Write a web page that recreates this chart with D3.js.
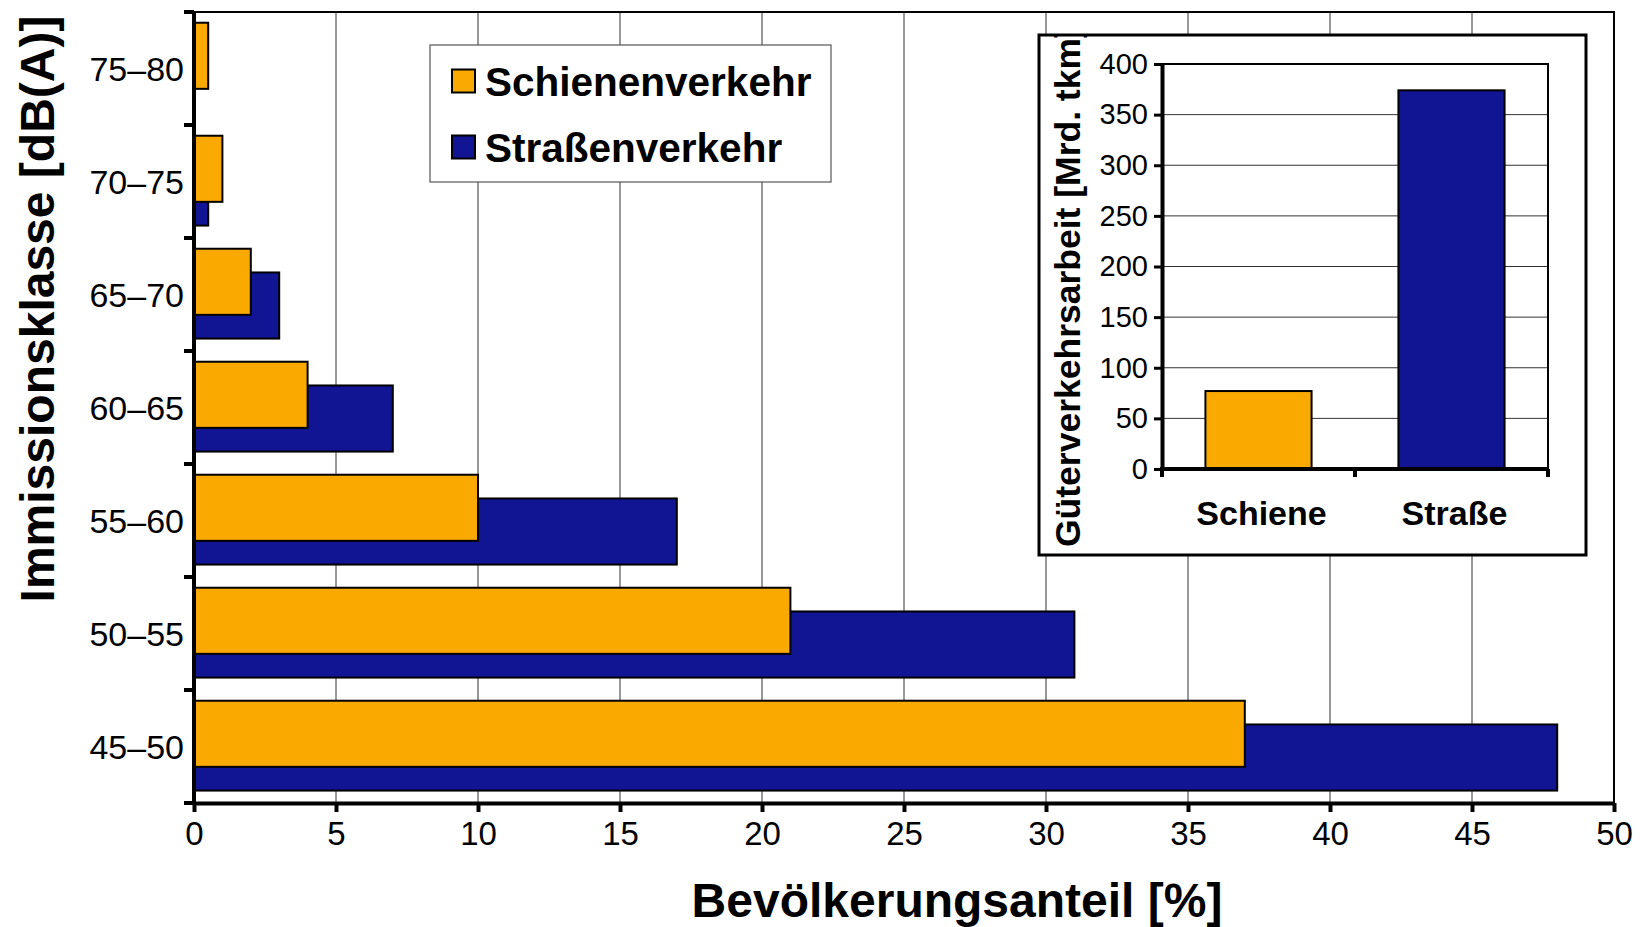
<!DOCTYPE html>
<html>
<head>
	<script src="https://cdn.jsdelivr.net/npm/d3@7"></script>
	<style>
		html, body {
			padding: 0;
			margin: 0;
			background: white;
		}
		text {
			font-family: "Liberation Sans", Arial, sans-serif;
		}
	</style>
</head>
<body>
	<script>
		var width = 1647, height = 927;

		// data
		var categories = ["45–50", "50–55", "55–60", "60–65", "65–70", "70–75", "75–80"];
		var schiene    = [37, 21, 10, 4, 2, 1, 0.5];
		var strasse    = [48, 31, 17, 7, 3, 0.5, 0];
		var seriesNames = ["Schienenverkehr", "Straßenverkehr"];
		var xTicks = [0, 5, 10, 15, 20, 25, 30, 35, 40, 45, 50];

		var insetCats   = ["Schiene", "Straße"];
		var insetValues = [77, 374];
		var insetTicks  = [0, 50, 100, 150, 200, 250, 300, 350, 400];

		var orange = "#f9a900", blue = "#111594";

		var svg = d3.select("body").append("svg")
			.attr("width", width)
			.attr("height", height);

		/* main chart */
		var pLeft = 194, pRight = 1614, pTop = 12, pBottom = 803;

		var x = d3.scaleLinear().domain([0, 50]).range([pLeft, pRight]);
		var y = d3.scaleBand().domain(categories.slice().reverse()).range([pTop, pBottom]).padding(0);
		// position inside a band: 0..1
		var sub = d3.scaleLinear().domain([0, 1]).range([0, y.bandwidth()]);

		// vertical gridlines
		svg.append("g").selectAll("line")
			.data(xTicks.slice(1, -1))
			.join("line")
			.attr("x1", d => x(d)).attr("x2", d => x(d))
			.attr("y1", pTop).attr("y2", pBottom)
			.attr("stroke", "#333").attr("stroke-width", 1);

		// frame top + right
		svg.append("path")
			.attr("d", "M" + pLeft + "," + pTop + "H" + pRight + "V" + pBottom)
			.attr("fill", "none").attr("stroke", "#000").attr("stroke-width", 2);

		// blue bars first, orange drawn over them
		svg.append("g").selectAll("rect")
			.data(categories)
			.join("rect")
			.attr("x", x(0))
			.attr("y", (d) => y(d) + sub(0.305))
			.attr("width", (d, i) => x(strasse[i]) - x(0))
			.attr("height", sub(0.585))
			.attr("fill", blue)
			.attr("stroke", "#000").attr("stroke-width", 2)
			.attr("display", (d, i) => strasse[i] > 0 ? null : "none");

		svg.append("g").selectAll("rect")
			.data(categories)
			.join("rect")
			.attr("x", x(0))
			.attr("y", (d) => y(d) + sub(0.095))
			.attr("width", (d, i) => x(schiene[i]) - x(0))
			.attr("height", sub(0.585))
			.attr("fill", orange)
			.attr("stroke", "#000").attr("stroke-width", 2);

		// axes
		var xAxis = svg.append("g")
			.attr("transform", "translate(0," + pBottom + ")")
			.call(d3.axisBottom(x).tickValues(xTicks).tickSize(9).tickPadding(10).tickSizeOuter(0));
		xAxis.select(".domain").attr("stroke-width", 4);
		xAxis.selectAll(".tick line").attr("stroke-width", 4);
		xAxis.selectAll("text").attr("font-size", 33).attr("fill", "#000")
			.attr("font-family", "Liberation Sans, Arial, sans-serif");

		// y axis: ticks sit on the band edges, labels in the band centre
		var yEdges = y.domain().map(d => y(d)).concat([pBottom]);
		var yAxis = svg.append("g");
		yAxis.append("line")
			.attr("x1", pLeft).attr("x2", pLeft)
			.attr("y1", pTop).attr("y2", pBottom + 2)
			.attr("stroke", "#000").attr("stroke-width", 4);
		yAxis.selectAll(".yt")
			.data(yEdges)
			.join("line")
			.attr("x1", pLeft - 10).attr("x2", pLeft)
			.attr("y1", d => d).attr("y2", d => d)
			.attr("stroke", "#000").attr("stroke-width", 4);
		yAxis.selectAll("text")
			.data(categories)
			.join("text")
			.attr("x", pLeft - 10)
			.attr("y", d => y(d) + y.bandwidth() / 2)
			.attr("dy", "0.36em")
			.attr("text-anchor", "end")
			.attr("font-size", 34)
			.text(d => d);

		// axis titles
		svg.append("text")
			.attr("x", 957).attr("y", 917)
			.attr("text-anchor", "middle")
			.attr("font-size", 48).attr("font-weight", "bold")
			.text("Bevölkerungsanteil [%]");

		svg.append("text")
			.attr("transform", "translate(54,309) rotate(-90)")
			.attr("text-anchor", "middle")
			.attr("font-size", 48).attr("font-weight", "bold")
			.text("Immissionsklasse [dB(A)]");

		/* legend */
		var legend = svg.append("g");
		legend.append("rect")
			.attr("x", 430).attr("y", 45).attr("width", 401).attr("height", 137)
			.attr("fill", "#fff").attr("stroke", "#555").attr("stroke-width", 1.2);
		var lg = legend.selectAll("g")
			.data(seriesNames)
			.join("g")
			.attr("transform", (d, i) => "translate(452," + (81 + i * 66) + ")");
		lg.append("rect")
			.attr("x", 0).attr("y", -11.5).attr("width", 23).attr("height", 23)
			.attr("fill", (d, i) => i == 0 ? orange : blue)
			.attr("stroke", "#000").attr("stroke-width", 2);
		lg.append("text")
			.attr("x", 33).attr("dy", "0.36em")
			.attr("font-size", 40.5).attr("font-weight", "bold")
			.text(d => d);

		/* inset chart */
		var bx = 1039, by = 35, bw = 547, bh = 520;
		svg.append("defs").append("clipPath").attr("id", "insetClip")
			.append("rect").attr("x", bx).attr("y", by + 1).attr("width", bw).attr("height", bh);
		svg.append("rect")
			.attr("x", bx).attr("y", by).attr("width", bw).attr("height", bh)
			.attr("fill", "#fff").attr("stroke", "#000").attr("stroke-width", 3);

		var iLeft = 1162, iRight = 1548, iTop = 64, iBottom = 469;
		var iy = d3.scaleLinear().domain([0, 400]).range([iBottom, iTop]);
		var ix = d3.scaleBand().domain(insetCats).range([iLeft, iRight]).paddingInner(0.45).paddingOuter(0.225);
		var ixEdges = d3.scaleBand().domain(insetCats).range([iLeft, iRight]);

		svg.append("g").selectAll("line")
			.data(insetTicks.slice(1, -1))
			.join("line")
			.attr("x1", iLeft).attr("x2", iRight)
			.attr("y1", d => iy(d)).attr("y2", d => iy(d))
			.attr("stroke", "#333").attr("stroke-width", 1);
		svg.append("path")
			.attr("d", "M" + iLeft + "," + iTop + "H" + iRight + "V" + iBottom)
			.attr("fill", "none").attr("stroke", "#000").attr("stroke-width", 2);

		svg.append("g").selectAll("rect")
			.data(insetCats)
			.join("rect")
			.attr("x", d => ix(d))
			.attr("y", (d, i) => iy(insetValues[i]))
			.attr("width", ix.bandwidth())
			.attr("height", (d, i) => iy(0) - iy(insetValues[i]))
			.attr("fill", (d, i) => i == 0 ? orange : blue)
			.attr("stroke", "#000").attr("stroke-width", 2);

		var iyAxis = svg.append("g")
			.attr("transform", "translate(" + iLeft + ",0)")
			.call(d3.axisLeft(iy).tickValues(insetTicks).tickSize(8).tickPadding(6).tickSizeOuter(0));
		iyAxis.select(".domain").attr("stroke-width", 4);
		iyAxis.selectAll(".tick line").attr("stroke-width", 3);
		iyAxis.selectAll("text").attr("font-size", 29).attr("fill", "#000")
			.attr("font-family", "Liberation Sans, Arial, sans-serif");

		var ixAxis = svg.append("g").attr("transform", "translate(0," + iBottom + ")");
		ixAxis.append("line")
			.attr("x1", iLeft - 2).attr("x2", iRight + 1)
			.attr("stroke", "#000").attr("stroke-width", 4);
		ixAxis.selectAll(".ixt")
			.data(insetCats.map(d => ixEdges(d)).concat([iRight]))
			.join("line")
			.attr("x1", d => d).attr("x2", d => d)
			.attr("y1", 0).attr("y2", 8)
			.attr("stroke", "#000").attr("stroke-width", 4);
		ixAxis.selectAll("text")
			.data(insetCats)
			.join("text")
			.attr("x", d => ixEdges(d) + ixEdges.bandwidth() / 2 + 3)
			.attr("y", 56)
			.attr("text-anchor", "middle")
			.attr("font-size", 34).attr("font-weight", "bold")
			.text(d => d);

		// title is cut by the inset frame at the top, as in the original
		svg.append("g")
			.attr("clip-path", "url(#insetClip)")
			.append("text")
			.attr("transform", "translate(1080,547) rotate(-90)")
			.attr("font-size", 35.5).attr("font-weight", "bold")
			.text("Güterverkehrsarbeit [Mrd. tkm]");
	</script>
</body>
</html>
